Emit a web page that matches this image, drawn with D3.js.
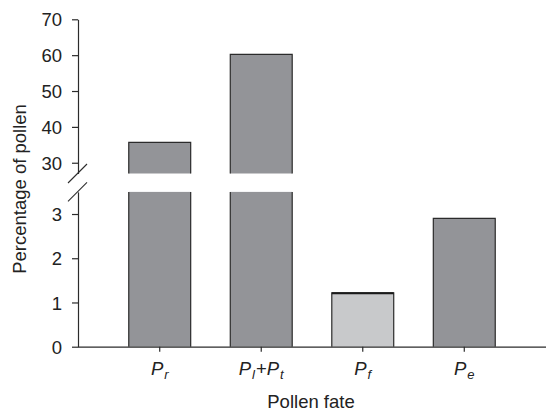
<!DOCTYPE html>
<html>
<head>
<meta charset="utf-8">
<script src="https://cdn.jsdelivr.net/npm/d3@7/dist/d3.min.js"></script>
<style>
  html, body { margin: 0; padding: 0; background: #fff; }
  svg { display: block; font-family: "Liberation Sans", Arial, sans-serif; }
</style>
</head>
<body>
<svg id="chart" width="552" height="412"></svg>
<script>
// Pollen fate categories (main letter + subscript parts)
const categories = ["Pr", "Pl+Pt", "Pf", "Pe"];
const labelParts = [
  [["P", "main"], ["r", "sub"]],
  [["P", "main"], ["l", "sub"], ["+", "plain"], ["P", "main"], ["t", "sub"]],
  [["P", "main"], ["f", "sub"]],
  [["P", "main"], ["e", "sub"]]
];
const values = [35.7, 60.2, 1.22, 2.9];
const barShade = ["dark", "dark", "light", "dark"];
const upperTicks = [30, 40, 50, 60, 70];
const lowerTicks = [0, 1, 2, 3];
const upperDomain = [27, 70];
const lowerDomain = [0, 3.5];

const svg = d3.select("#chart");
const axisX = 78;
const ink = "#2b2b2b";
const fontSize = 18.5;

const x = d3.scaleBand()
  .domain(categories)
  .range([axisX, 546])
  .paddingInner(0.39)
  .paddingOuter(0.5);

// Broken y axis: an upper segment for large values, a lower one for small
const yUp = d3.scaleLinear().domain(upperDomain).range([173.5, 19.3]);
const yLo = d3.scaleLinear().domain(lowerDomain).range([346.7, 191.9]);

const fills = { dark: "#939498", light: "#c8c9cb" };

const bars = svg.append("g");
categories.forEach((c, i) => {
  const v = values[i];
  const x0 = x(c), w = x.bandwidth(), x1 = x0 + w;
  const fill = fills[barShade[i]];
  const broken = v > lowerDomain[1];
  // lower segment
  const loTop = yLo(Math.min(v, lowerDomain[1]));
  bars.append("rect")
    .attr("x", x0).attr("y", loTop)
    .attr("width", w).attr("height", yLo(0) - loTop)
    .attr("fill", fill);
  const loPath = broken
    ? `M${x0},${loTop}V${yLo(0)}M${x1},${loTop}V${yLo(0)}`
    : `M${x0},${yLo(0)}V${loTop}H${x1}V${yLo(0)}`;
  bars.append("path").attr("d", loPath)
    .attr("fill", "none").attr("stroke", ink).attr("stroke-width", 1.2);
  if (!broken && barShade[i] === "light") {
    bars.append("line")
      .attr("x1", x0).attr("x2", x1)
      .attr("y1", loTop + 0.6).attr("y2", loTop + 0.6)
      .attr("stroke", "#1a1a1a").attr("stroke-width", 2);
  }
  if (broken) {
    const upTop = yUp(v), upBot = yUp(upperDomain[0]);
    bars.append("rect")
      .attr("x", x0).attr("y", upTop)
      .attr("width", w).attr("height", upBot - upTop)
      .attr("fill", fill);
    bars.append("path")
      .attr("d", `M${x0},${upBot}V${upTop}H${x1}V${upBot}`)
      .attr("fill", "none").attr("stroke", ink).attr("stroke-width", 1.2);
  }
});

// y axes
function styleAxis(g) {
  g.selectAll("path, line").attr("stroke", ink).attr("stroke-width", 1.2);
  g.selectAll("text").attr("fill", "#222").attr("font-size", fontSize)
    .attr("font-family", "Liberation Sans, Arial, sans-serif")
    .attr("dy", "0.36em");
}
const gUp = svg.append("g").attr("transform", `translate(${axisX},0)`)
  .call(d3.axisLeft(yUp).tickValues(upperTicks).tickFormat(d3.format("d"))
    .tickSize(6).tickPadding(10).tickSizeOuter(0));
styleAxis(gUp);
const gLo = svg.append("g").attr("transform", `translate(${axisX},0)`)
  .call(d3.axisLeft(yLo).tickValues(lowerTicks).tickFormat(d3.format("d"))
    .tickSize(6).tickPadding(10).tickSizeOuter(0));
styleAxis(gLo);

// break marks across the axis
[yUp(upperDomain[0]), yLo(lowerDomain[1])].forEach(yb => {
  svg.append("line")
    .attr("x1", axisX - 10).attr("y1", yb + 9.5)
    .attr("x2", axisX + 9).attr("y2", yb - 9.5)
    .attr("stroke", ink).attr("stroke-width", 1.1);
});

// x axis
const gX = svg.append("g").attr("transform", `translate(0,${yLo(0)})`)
  .call(d3.axisBottom(x).tickSize(5).tickSizeOuter(0).tickFormat(""));
gX.selectAll("path, line").attr("stroke", ink).attr("stroke-width", 1.2);
gX.select(".domain").attr("d", `M${axisX},0.5H546`);

// category labels with italic subscripts
categories.forEach((c, i) => {
  const t = svg.append("text")
    .attr("x", x(c) + x.bandwidth() / 2)
    .attr("y", 375)
    .attr("text-anchor", "middle")
    .attr("font-size", fontSize)
    .attr("fill", "#222");
  labelParts[i].forEach(([s, kind]) => {
    const ts = t.append("tspan").text(s);
    if (kind === "main") ts.attr("font-style", "italic").attr("font-size", fontSize);
    if (kind === "sub") ts.attr("font-style", "italic").attr("font-size", 13).attr("dy", 4).attr("dx", 1);
    if (kind === "plain") ts.attr("font-size", fontSize).attr("dy", -4).attr("dx", 1);
  });
});

// axis titles
svg.append("text")
  .attr("x", 311).attr("y", 408)
  .attr("text-anchor", "middle")
  .attr("font-size", fontSize).attr("fill", "#222")
  .text("Pollen fate");

svg.append("text")
  .attr("transform", "translate(26,189) rotate(-90)")
  .attr("text-anchor", "middle")
  .attr("font-size", fontSize).attr("fill", "#222")
  .text("Percentage of pollen");
</script>
</body>
</html>
